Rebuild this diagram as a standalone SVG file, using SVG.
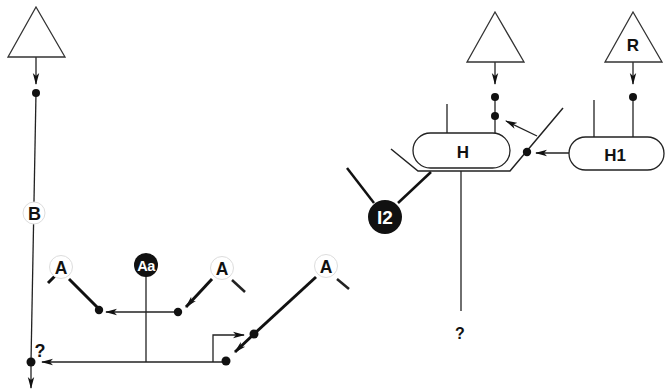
<svg xmlns="http://www.w3.org/2000/svg" width="665" height="391" viewBox="0 0 665 391">
<style>
.thin{stroke:#222;stroke-width:1.3;fill:none}
.thick{stroke:#111;stroke-width:3;fill:none}
.tri{stroke:#333;stroke-width:1.3;fill:#fff}
.dot{fill:#111}
.lbl{font-family:"Liberation Sans",Arial,sans-serif;font-weight:bold;fill:#111;text-anchor:middle}
.wc{fill:#fff;stroke:#ddd;stroke-width:1}
.bc{fill:#111}
.box{fill:#fff;stroke:#222;stroke-width:1.3}
</style>
<defs>
<marker id="ah" markerWidth="12" markerHeight="8" refX="11" refY="4" orient="auto" markerUnits="userSpaceOnUse">
<path d="M0,0.8 L12,4 L0,7.2 L3,4 z" fill="#111"/>
</marker>
</defs>

<g id="connectors">
<line class="thin" x1="36" y1="57" x2="36" y2="84" marker-end="url(#ah)"/>
<line class="thin" x1="36" y1="93" x2="31" y2="362"/>
<line class="thin" x1="31" y1="362" x2="31" y2="388" marker-end="url(#ah)"/>
<line class="thin" x1="226" y1="362" x2="42" y2="362" marker-end="url(#ah)"/>
<line class="thin" x1="146" y1="276" x2="146" y2="362"/>
<line class="thin" x1="178" y1="312" x2="106" y2="312" marker-end="url(#ah)"/>
<polyline class="thin" points="213,362 213,335 244,335" marker-end="url(#ah)"/>
<line class="thick" x1="48" y1="283" x2="55" y2="276"/>
<line class="thick" x1="69" y1="279" x2="99" y2="309"/>
<line class="thick" x1="212" y1="279" x2="186" y2="307" marker-end="url(#ah)"/>
<line class="thin" x1="232" y1="280" x2="245" y2="292" style="stroke-width:2.5"/>
<line class="thick" x1="316" y1="277" x2="254" y2="334"/>
<line class="thick" x1="254" y1="334" x2="235" y2="352" marker-end="url(#ah)"/>
<line class="thin" x1="337" y1="279" x2="349" y2="289" style="stroke-width:2.5"/>
<line class="thin" x1="495" y1="62" x2="495" y2="84" marker-end="url(#ah)"/>
<line class="thin" x1="495" y1="97" x2="495" y2="133"/>
<line class="thin" x1="633" y1="62" x2="633" y2="84" marker-end="url(#ah)"/>
<line class="thin" x1="633" y1="97" x2="633" y2="137"/>
<line class="thin" x1="447" y1="104" x2="447" y2="133"/>
<line class="thin" x1="594" y1="100" x2="594" y2="137"/>
<polyline class="thin" points="391,149 418,171 510,171 563,108" style="stroke-width:1.5"/>
<line class="thin" x1="569" y1="153" x2="536" y2="153" marker-end="url(#ah)"/>
<line class="thin" x1="537" y1="136" x2="506" y2="121" marker-end="url(#ah)"/>
<line class="thin" x1="461" y1="171" x2="461" y2="311"/>
<line class="thick" x1="347" y1="168" x2="374" y2="203" style="stroke-width:2.5"/>
<line class="thick" x1="398" y1="203" x2="431" y2="172" style="stroke-width:2.5"/>
</g>

<g id="dots">
<circle class="dot" cx="36" cy="93" r="4"/>
<circle class="dot" cx="31" cy="362" r="4.5"/>
<circle class="dot" cx="99" cy="310" r="4.2"/>
<circle class="dot" cx="178" cy="312" r="4.2"/>
<circle class="dot" cx="226" cy="361" r="4.5"/>
<circle class="dot" cx="254" cy="334" r="4.5"/>
<circle class="dot" cx="495" cy="97" r="4"/>
<circle class="dot" cx="495" cy="116" r="4"/>
<circle class="dot" cx="633" cy="97" r="4"/>
<circle class="dot" cx="527" cy="152" r="4.2"/>
</g>

<g id="triangle-left">
<polygon class="tri" points="36,7 65,57 8,57"/>
</g>
<g id="triangle-mid">
<polygon class="tri" points="495,12 524,62 467,62"/>
</g>
<g id="triangle-R">
<polygon class="tri" points="633,12 662,62 605,62"/>
<text class="lbl" x="633" y="51" font-size="17">R</text>
</g>

<g id="node-B">
<circle class="wc" cx="34" cy="213" r="11"/>
<text class="lbl" x="34.5" y="219.5" font-size="18">B</text>
</g>
<g id="node-A1">
<circle class="wc" cx="61" cy="267" r="11.5"/>
<text class="lbl" x="61" y="273.5" font-size="17.5">A</text>
</g>
<g id="node-Aa">
<circle class="bc" cx="146" cy="265" r="12"/>
<text class="lbl" x="146" y="270.5" font-size="14.5" style="fill:#fff;letter-spacing:-0.5px">Aa</text>
</g>
<g id="node-A2">
<circle class="wc" cx="222" cy="268" r="11.5"/>
<text class="lbl" x="222" y="274.5" font-size="17.5">A</text>
</g>
<g id="node-A3">
<circle class="wc" cx="326" cy="266" r="11.5"/>
<text class="lbl" x="326" y="272.5" font-size="17.5">A</text>
</g>
<g id="q-left">
<text class="lbl" x="40" y="357" font-size="18">?</text>
</g>

<g id="node-H">
<rect class="box" x="413" y="133" width="97" height="35" rx="17.5"/>
<text class="lbl" x="463" y="158" font-size="17">H</text>
</g>
<g id="node-H1">
<rect class="box" x="569" y="137" width="95" height="33" rx="16.5"/>
<text class="lbl" x="615" y="161" font-size="17">H1</text>
</g>
<g id="node-I2">
<circle class="bc" cx="385" cy="217" r="17"/>
<text class="lbl" x="385" y="224" font-size="19" style="fill:#fff">I2</text>
</g>
<g id="q-right">
<text class="lbl" x="460" y="339" font-size="16">?</text>
</g>
</svg>
